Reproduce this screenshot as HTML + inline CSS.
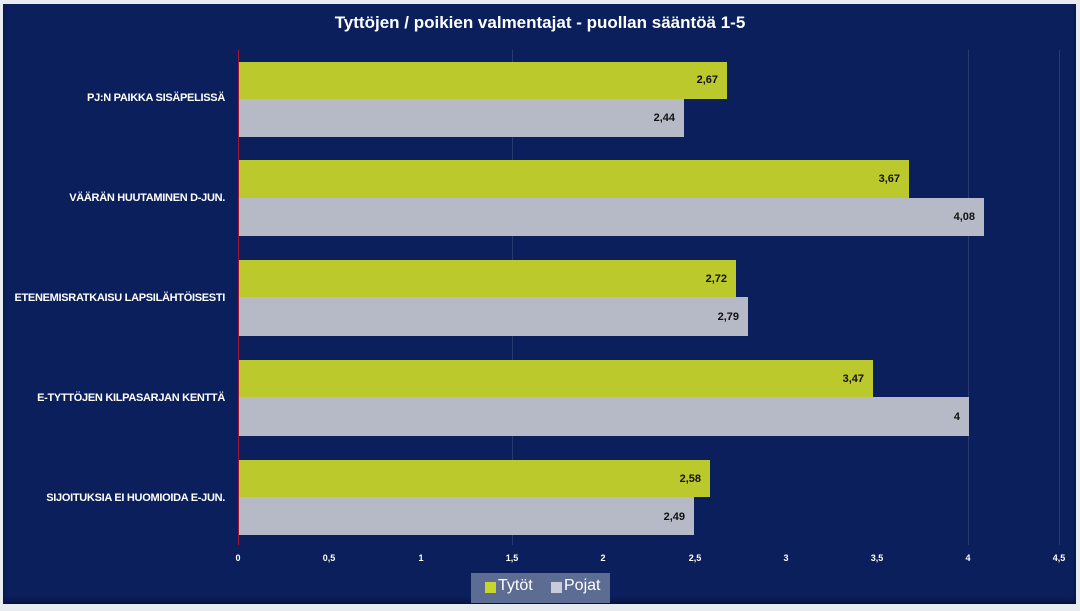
<!DOCTYPE html>
<html><head><style>
body{margin:0;background:#e8ebf0;}
#c{position:absolute;left:3px;top:4px;width:1073px;height:600px;background:#0b1f5d;box-shadow:inset 0 -3px 4px #061238;}
.t{position:absolute;font-family:"Liberation Sans",sans-serif;font-weight:bold;}
.b{position:absolute;}
.g{background:#bbc92c;}
.p{background:#b6bac6;}
.v{position:absolute;font:bold 11px "Liberation Sans",sans-serif;color:#111;text-align:right;width:40px;}
.cat{position:absolute;right:855px;font:bold 11px "Liberation Sans",sans-serif;letter-spacing:-0.3px;color:#fff;white-space:nowrap;}
.tk{position:absolute;top:553px;font:bold 9px "Liberation Sans",sans-serif;color:#fff;width:30px;text-align:center;}
.gl{position:absolute;top:50px;height:495px;width:1px;background:rgba(255,255,255,0.12);}
</style></head><body>
<div id="c"></div>
<div class="t" style="left:0;width:1080px;top:13px;text-align:center;color:#fff;font-size:17px;">Tyttöjen / poikien valmentajat - puollan sääntöä 1-5</div>
<div class="gl" style="left:512px"></div>
<div class="gl" style="left:968px"></div>
<div class="gl" style="left:1059px"></div>
<div style="position:absolute;left:238px;top:50px;width:1px;height:495px;background:#a01838"></div>

<div class="b g" style="left:239px;top:62px;width:488px;height:37px"></div>
<div class="b p" style="left:239px;top:99px;width:445px;height:38px"></div>
<div class="b g" style="left:239px;top:160px;width:670px;height:38px"></div>
<div class="b p" style="left:239px;top:198px;width:745px;height:38px"></div>
<div class="b g" style="left:239px;top:260px;width:497px;height:37px"></div>
<div class="b p" style="left:239px;top:297px;width:509px;height:39px"></div>
<div class="b g" style="left:239px;top:360px;width:634px;height:37px"></div>
<div class="b p" style="left:239px;top:397px;width:730px;height:39px"></div>
<div class="b g" style="left:239px;top:460px;width:471px;height:37px"></div>
<div class="b p" style="left:239px;top:497px;width:455px;height:38px"></div>

<div class="v" style="left:678px;top:74px">2,67</div>
<div class="v" style="left:635px;top:112px">2,44</div>
<div class="v" style="left:860px;top:173px">3,67</div>
<div class="v" style="left:935px;top:211px">4,08</div>
<div class="v" style="left:687px;top:273px">2,72</div>
<div class="v" style="left:699px;top:311px">2,79</div>
<div class="v" style="left:824px;top:373px">3,47</div>
<div class="v" style="left:920px;top:411px">4</div>
<div class="v" style="left:661px;top:473px">2,58</div>
<div class="v" style="left:645px;top:511px">2,49</div>

<div class="cat" style="top:92px">PJ:N PAIKKA SISÄPELISSÄ</div>
<div class="cat" style="top:192px">VÄÄRÄN HUUTAMINEN D-JUN.</div>
<div class="cat" style="top:292px">ETENEMISRATKAISU LAPSILÄHTÖISESTI</div>
<div class="cat" style="top:392px">E-TYTTÖJEN KILPASARJAN KENTTÄ</div>
<div class="cat" style="top:492px">SIJOITUKSIA EI HUOMIOIDA E-JUN.</div>

<div class="tk" style="left:223px">0</div>
<div class="tk" style="left:314px">0,5</div>
<div class="tk" style="left:406px">1</div>
<div class="tk" style="left:497px">1,5</div>
<div class="tk" style="left:588px">2</div>
<div class="tk" style="left:680px">2,5</div>
<div class="tk" style="left:771px">3</div>
<div class="tk" style="left:862px">3,5</div>
<div class="tk" style="left:953px">4</div>
<div class="tk" style="left:1044px">4,5</div>

<div style="position:absolute;left:471px;top:573px;width:139px;height:30px;background:#5d6c93;"></div>
<div style="position:absolute;left:485px;top:582px;width:11px;height:11px;background:#c8d62a"></div>
<div class="t" style="left:498px;top:577px;font-size:16px;font-weight:normal;color:#fff">Tytöt</div>
<div style="position:absolute;left:551px;top:582px;width:11px;height:11px;background:#c9ccd6"></div>
<div class="t" style="left:564px;top:577px;font-size:16px;font-weight:normal;color:#fff">Pojat</div>
</body></html>
